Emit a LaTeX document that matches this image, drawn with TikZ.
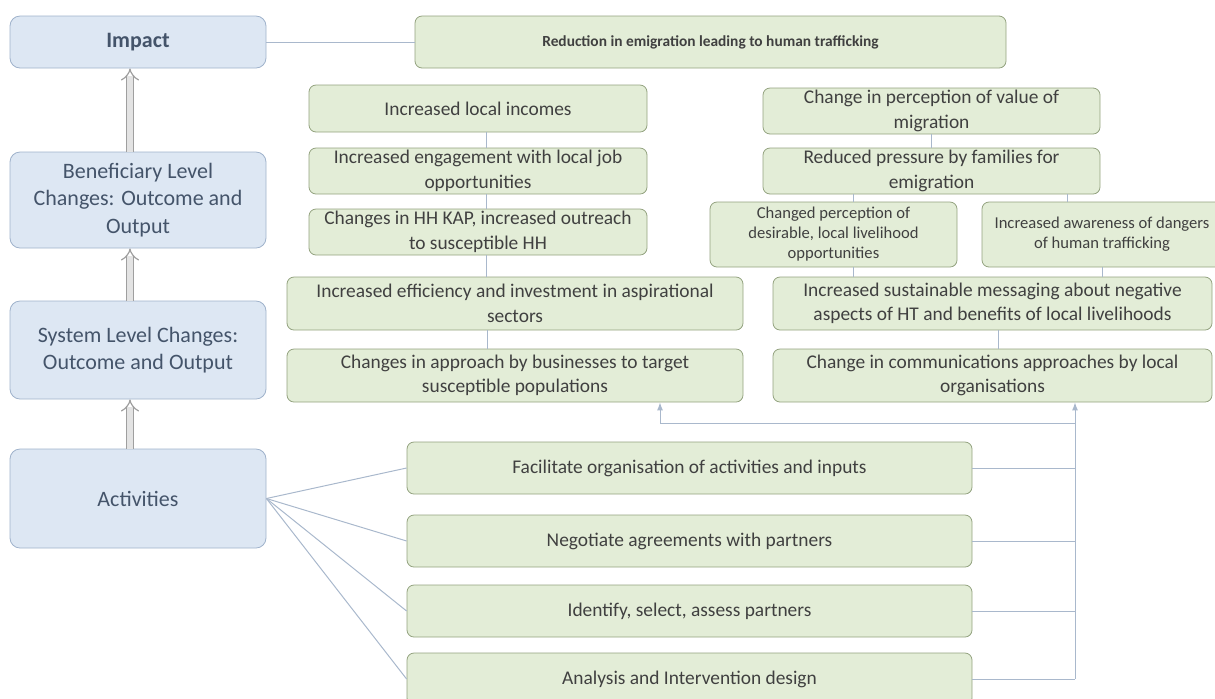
\documentclass[tikz,border=0pt]{standalone}
\usepackage{fontspec}
\setmainfont{Carlito}
\usepackage{xcolor}
\usetikzlibrary{positioning,calc,arrows.meta}
\definecolor{lvlfill}{HTML}{DDE7F3}
\definecolor{lvldraw}{HTML}{9FB2CB}
\definecolor{lvltext}{HTML}{44546A}
\definecolor{resfill}{HTML}{E3EDD7}
\definecolor{resdraw}{HTML}{93A27F}
\definecolor{restext}{HTML}{404040}
\definecolor{linkcol}{HTML}{A9B8CC}

\begin{document}
\begin{tikzpicture}[
    x=0.5pt, y=-0.5pt,
    lvl/.style={draw=lvldraw, fill=lvlfill, rounded corners=5pt, align=center, text=lvltext,
        minimum width=128pt, font=\fontsize{11}{13.8}\selectfont},
    res/.style={draw=resdraw, fill=resfill, rounded corners=3.5pt, align=center, text=restext,
        inner sep=1pt, font=\fontsize{9.7}{12.3}\selectfont},
    small/.style={font=\fontsize{8.3}{10}\selectfont},
    link/.style={draw=linkcol, line width=0.5pt},
    fb/.style={link, -{Latex[length=4pt,width=3pt]}},
    uparr/.style={draw=gray!75, double=gray!22, double distance=2.6pt, line width=0.6pt, -{Implies}}
]
    \useasboundingbox (0,0) rectangle (1215,698);

    % results chain levels
    \node[lvl, minimum height=26pt, font=\bfseries\fontsize{11}{13.8}\selectfont] (impact) at (138,42) {Impact};
    \node[lvl, minimum height=48pt] (benef) at (138,200) {Beneficiary Level\\Changes: Outcome and\\Output};
    \node[lvl, minimum height=49pt] (system) at (138,350) {System Level Changes:\\Outcome and Output};
    \node[lvl, minimum height=49.5pt] (activ) at (138,498.5) {Activities};

    \draw[uparr] ([xshift=-4pt]benef.north) -- ([xshift=-4pt]impact.south);
    \draw[uparr] ([xshift=-4pt]system.north) -- ([xshift=-4pt]benef.south);
    \draw[uparr] ([xshift=-4pt]activ.north) -- ([xshift=-4pt]system.south);

    % impact
    \node[res, minimum width=295.5pt, minimum height=26pt, font=\bfseries\fontsize{7.7}{9}\selectfont] (reduce) at (710.5,42) {Reduction in emigration leading to human trafficking};
    \draw[link] (impact.east) -- (reduce.west);

    % income pathway
    \node[res, minimum width=169pt, minimum height=23.5pt] (inc1) at (478,108.5) {Increased local incomes};
    \node[res, minimum width=169pt, minimum height=23pt] (inc2) at (478,171) {Increased engagement with local job\\opportunities};
    \node[res, minimum width=169pt, minimum height=23pt] (inc3) at (478,232) {Changes in HH KAP, increased outreach\\to susceptible HH};
    \node[res, minimum width=228pt, minimum height=26.5pt] (inc4) at (515,303.5) {Increased efficiency and investment in aspirational\\sectors};
    \node[res, minimum width=228pt, minimum height=26.5pt] (inc5) at (515,375.5) {Changes in approach by businesses to target\\susceptible populations};

    \draw[link] ([xshift=4pt]inc1.south) -- ([xshift=4pt]inc2.north);
    \draw[link] ([xshift=4pt]inc2.south) -- ([xshift=4pt]inc3.north);
    \draw[link] ([xshift=4pt]inc3.south) -- ([xshift=4pt]inc3.south |- inc4.north);
    \draw[link] ([xshift=-14pt]inc4.south) -- ([xshift=-14pt]inc5.north);

    % perception pathway
    \node[res, minimum width=168.5pt, minimum height=23pt] (per1) at (931.5,111) {Change in perception of value of\\migration};
    \node[res, minimum width=168.5pt, minimum height=23pt] (per2) at (931.5,171) {Reduced pressure by families for\\emigration};
    \node[res, small, minimum width=123.5pt, minimum height=32.5pt] (per3) at (833.5,234.5) {Changed perception of\\desirable, local livelihood\\opportunities};
    \node[res, small, minimum width=120pt, minimum height=32.5pt] (per4) at (1102,234.5) {Increased awareness of dangers\\of human trafficking};
    \node[res, minimum width=219.5pt, minimum height=26.5pt] (per5) at (992.5,303.5) {Increased sustainable messaging about negative\\aspects of HT and benefits of local livelihoods};
    \node[res, minimum width=219.5pt, minimum height=26.5pt] (per6) at (992.5,375.5) {Change in communications approaches by local\\organisations};

    \draw[link] (per1.south) -- (per2.north);
    \draw[link] ([xshift=-39pt]per2.south) -- ([xshift=-39pt]per2.south |- per3.north);
    \draw[link] ([xshift=68pt]per2.south) -- ([xshift=68pt]per2.south |- per4.north);
    \draw[link] ([xshift=10pt]per3.south) -- ([xshift=10pt]per3.south |- per5.north);
    \draw[link] (per4.south) -- (per4.south |- per5.north);
    \draw[link] ([xshift=3pt]per5.south) -- ([xshift=3pt]per6.north);

    % activities
    \node[res, minimum width=282.5pt, minimum height=26pt] (act1) at (689.5,468) {Facilitate organisation of activities and inputs};
    \node[res, minimum width=282.5pt, minimum height=26pt] (act2) at (689.5,541) {Negotiate agreements with partners};
    \node[res, minimum width=282.5pt, minimum height=26pt] (act3) at (689.5,611) {Identify, select, assess partners};
    \node[res, minimum width=282.5pt, minimum height=26pt] (act4) at (689.5,679) {Analysis and Intervention design};

    \foreach \a in {act1,act2,act3,act4}
        \draw[link] (activ.east) -- (\a.west);

    % feedback to outputs
    \coordinate (bus) at (1075,423);
    \foreach \a in {act1,act2,act3,act4}
        \draw[link] (\a.east) -- (\a.east -| bus);
    \draw[link] (act4.east -| bus) -- (bus);
    \draw[fb] (bus) -- (bus |- per6.south);
    \draw[fb] (bus) -| ([xshift=72.5pt]inc5.south);
\end{tikzpicture}
\end{document}
